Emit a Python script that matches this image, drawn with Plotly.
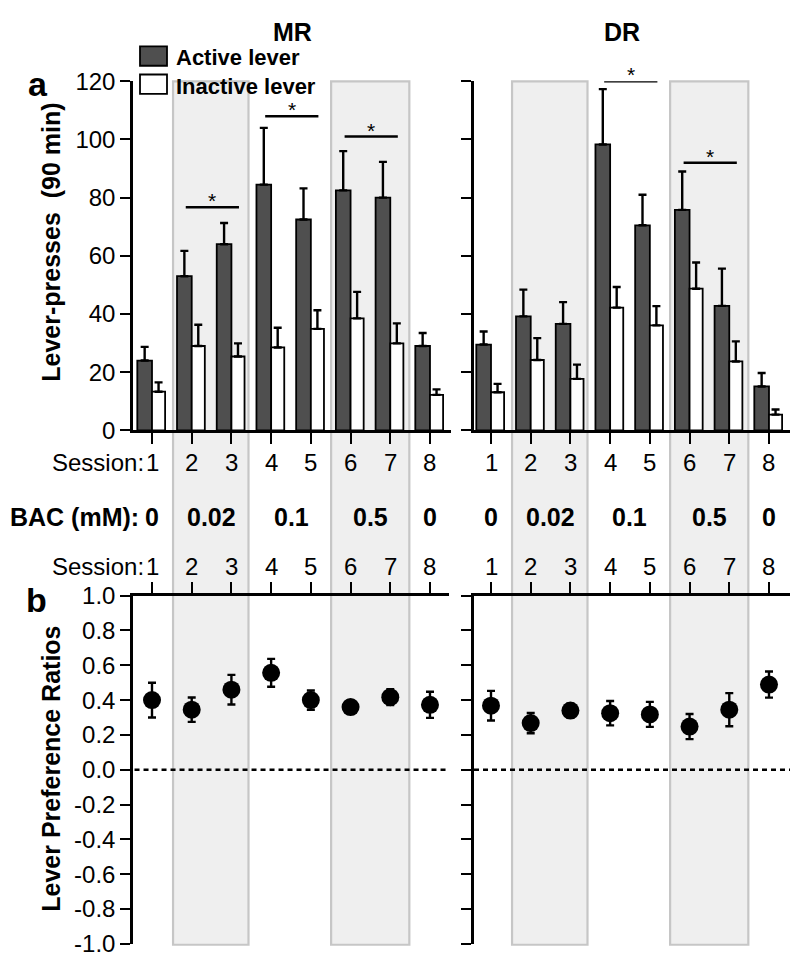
import plotly.graph_objects as go

W, H = 800, 976
FONT = "Liberation Sans, Arial, Helvetica, sans-serif"

sessions = [1, 2, 3, 4, 5, 6, 7, 8]
session_text = ["1", "2", "3", "4", "5", "6", "7", "8"]

mr_active = [24, 53, 64, 84.5, 72.5, 82.5, 80, 29]
mr_active_err = [4.7, 8.7, 7.3, 19.5, 10.7, 13.5, 12.3, 4.5]
mr_inactive = [13.3, 29, 25.4, 28.5, 34.9, 38.5, 29.9, 12.2]
mr_inactive_err = [3.2, 7.3, 4.5, 6.8, 6.4, 9.1, 6.9, 1.9]

dr_active = [29.5, 39.2, 36.6, 98.3, 70.5, 75.8, 42.8, 15.1]
dr_active_err = [4.5, 9.2, 7.5, 19, 10.5, 13.2, 12.8, 4.6]
dr_inactive = [13.1, 24.2, 17.7, 42.2, 36.1, 48.7, 23.7, 5.4]
dr_inactive_err = [2.9, 7.5, 4.9, 7.1, 6.6, 9, 6.9, 1.8]

mr_ratio = [0.40, 0.345, 0.46, 0.557, 0.40, 0.36, 0.417, 0.373]
mr_ratio_err = [0.10, 0.07, 0.085, 0.08, 0.055, 0.035, 0.045, 0.075]
dr_ratio = [0.368, 0.268, 0.34, 0.325, 0.318, 0.248, 0.345, 0.489]
dr_ratio_err = [0.085, 0.058, 0.04, 0.07, 0.072, 0.072, 0.095, 0.075]

bac_labels = ["0", "0.02", "0.1", "0.5", "0"]
bac_pos = [1, 2.5, 4.5, 6.5, 8]

mr_sig = [(2, 3, 76.7), (4, 5, 108), (6, 7, 101)]
dr_sig = [(4, 5, 120), (6, 7, 92)]

shade_blocks = [(1.53, 3.43), (5.51, 7.48)]

press_ticks = [0, 20, 40, 60, 80, 100, 120]
ratio_ticks = [-1.0, -0.8, -0.6, -0.4, -0.2, 0.0, 0.2, 0.4, 0.6, 0.8, 1.0]
ratio_text = ["-1.0", "-0.8", "-0.6", "-0.4", "-0.2", "0.0", "0.2", "0.4", "0.6", "0.8", "1.0"]

OFF = 8  # page body margin


def px(v):
    return (v - OFF) / W


def py(v):
    return 1 - (v - OFF) / H


ACTIVE = "#4f4f4f"
fig = go.Figure()

# bars
for xa, ya, act, acte, ina, inae in [("x", "y", mr_active, mr_active_err, mr_inactive, mr_inactive_err),
                                     ("x2", "y2", dr_active, dr_active_err, dr_inactive, dr_inactive_err)]:
    fig.add_trace(go.Bar(x=sessions, y=act, width=0.37, offset=-0.37, xaxis=xa, yaxis=ya,
                         marker=dict(color=ACTIVE, line=dict(color="black", width=1.8)),
                         error_y=dict(type="data", array=acte, arrayminus=[0] * 8, symmetric=False,
                                      color="black", thickness=2.4, width=4),
                         showlegend=False))
    fig.add_trace(go.Bar(x=sessions, y=ina, width=0.33, offset=0.0, xaxis=xa, yaxis=ya,
                         marker=dict(color="white", line=dict(color="black", width=1.8)),
                         error_y=dict(type="data", array=inae, arrayminus=[0] * 8, symmetric=False,
                                      color="black", thickness=2.4, width=4),
                         showlegend=False))

# ratios
for xa, ya, r, re in [("x3", "y3", mr_ratio, mr_ratio_err), ("x4", "y4", dr_ratio, dr_ratio_err)]:
    fig.add_trace(go.Scatter(x=sessions, y=r, mode="markers", xaxis=xa, yaxis=ya,
                             marker=dict(color="black", size=18, symbol="circle"),
                             error_y=dict(type="data", array=re, color="black", thickness=2.4, width=4),
                             showlegend=False))

shapes = []
for xr in ["x", "x2"]:
    for a, b in shade_blocks:
        shapes.append(dict(type="rect", xref=xr, yref="paper", x0=a, x1=b, y0=py(957), y1=py(69),
                           fillcolor="#efefef", line=dict(color="#c6c6c6", width=2.2), layer="below"))

annotations = []
# significance brackets
for xr, yr, sig in [("x", "y", mr_sig), ("x2", "y2", dr_sig)]:
    for a, b, yv in sig:
        shapes.append(dict(type="line", xref=xr, yref=yr, x0=a - 0.15, x1=b + 0.19, y0=yv, y1=yv,
                           line=dict(color="black", width=2.5)))
        annotations.append(dict(xref=xr, yref=yr, x=(a + b) / 2 + 0.02, y=yv, text="*", showarrow=False,
                                yanchor="bottom", yshift=-6, borderpad=0,
                                font=dict(size=21, color="black", family=FONT)))

# zero dotted lines
for xr, yr, x0, x1 in [("x3", "y3", 0.56, 8.45), ("x4", "y4", 0.572, 8.529)]:
    shapes.append(dict(type="line", xref=xr, yref=yr, x0=x0, x1=x1, y0=0, y1=0,
                       line=dict(color="black", width=2.5, dash="5px,4px")))

# legend
shapes.append(dict(type="rect", xref="paper", yref="paper", x0=px(140), x1=px(167), y0=py(53), y1=py(33),
                   fillcolor=ACTIVE, line=dict(color="black", width=1.8)))
shapes.append(dict(type="rect", xref="paper", yref="paper", x0=px(140), x1=px(167), y0=py(82), y1=py(62),
                   fillcolor="white", line=dict(color="black", width=1.8)))
annotations.append(dict(xref="paper", yref="paper", x=px(175), y=py(45), text="<b>Active lever</b>",
                        xanchor="left", yanchor="middle", showarrow=False, borderpad=0,
                        font=dict(size=22, color="black", family=FONT)))
annotations.append(dict(xref="paper", yref="paper", x=px(175), y=py(74), text="<b>Inactive lever</b>",
                        xanchor="left", yanchor="middle", showarrow=False, borderpad=0,
                        font=dict(size=22, color="black", family=FONT)))

# titles and panel letters
annotations.append(dict(xref="paper", yref="paper", x=px(292), y=py(18), text="<b>MR</b>", showarrow=False,
                        xanchor="center", yanchor="middle", font=dict(size=25, color="black", family=FONT)))
annotations.append(dict(xref="paper", yref="paper", x=px(622), y=py(18), text="<b>DR</b>", showarrow=False,
                        xanchor="center", yanchor="middle", font=dict(size=25, color="black", family=FONT)))
annotations.append(dict(xref="paper", yref="paper", x=px(38), y=py(72), text="<b>a</b>", showarrow=False,
                        xanchor="center", yanchor="middle", font=dict(size=34, color="black", family=FONT)))
annotations.append(dict(xref="paper", yref="paper", x=px(36), y=py(602), text="<b>b</b>", showarrow=False,
                        xanchor="center", yanchor="middle", font=dict(size=34, color="black", family=FONT)))
annotations.append(dict(xref="paper", yref="paper", x=px(51), y=py(235), text="<b>Lever-presses  (90 min)</b>",
                        showarrow=False, textangle=-90, xanchor="center", yanchor="middle",
                        font=dict(size=25, color="black", family=FONT)))
annotations.append(dict(xref="paper", yref="paper", x=px(51), y=py(776), text="<b>Lever Preference Ratios</b>",
                        showarrow=False, textangle=-90, xanchor="center", yanchor="middle",
                        font=dict(size=25, color="black", family=FONT)))

# session numbers (top row under bars, second row above ratio panel)
for yv in [461, 568]:
    annotations.append(dict(xref="x", yref="paper", x=1, y=py(yv), text="Session:", showarrow=False,
                            xanchor="right", yanchor="middle", xshift=-6,
                            font=dict(size=24, color="black", family=FONT)))
    for xr in ["x", "x2"]:
        for s, t in zip(sessions, session_text):
            annotations.append(dict(xref=xr, yref="paper", x=s, y=py(yv), text=t, showarrow=False,
                                    xanchor="center", yanchor="middle",
                                    font=dict(size=24, color="black", family=FONT)))

# BAC labels
annotations.append(dict(xref="x", yref="paper", x=1, y=py(517), text="<b>BAC (mM):</b>", showarrow=False,
                        xanchor="right", yanchor="middle", xshift=-11,
                        font=dict(size=25, color="black", family=FONT)))
for xr in ["x", "x2"]:
    for lab, pos in zip(bac_labels, bac_pos):
        annotations.append(dict(xref=xr, yref="paper", x=pos, y=py(517), text="<b>" + lab + "</b>",
                                showarrow=False, xanchor="center", yanchor="middle",
                                font=dict(size=25, color="black", family=FONT)))

tickfont = dict(size=24, color="black", family=FONT)
common_x = dict(tickvals=sessions, ticktext=session_text, showticklabels=False, ticks="outside", ticklen=11,
                tickwidth=2.4, tickcolor="black", showline=True, linecolor="black", linewidth=2.5,
                showgrid=False, zeroline=False, fixedrange=True)
common_y = dict(ticks="outside", ticklen=10, tickwidth=2.4, tickcolor="black", showline=True,
                linecolor="black", linewidth=2.5, showgrid=False, zeroline=False, tickfont=tickfont)

x_mr = [0.5215, 8.529]
x_dr = [0.572, 8.529]
fig.update_layout(
    width=W, height=H, margin=dict(l=0, r=0, t=0, b=0),
    paper_bgcolor="white", plot_bgcolor="rgba(0,0,0,0)",
    font=dict(family=FONT, color="black"),
    showlegend=False,
    xaxis=dict(domain=[px(133), px(451)], range=x_mr, anchor="y", side="bottom", **common_x),
    yaxis=dict(domain=[py(428), py(69)], range=[0, 120], anchor="x", tickvals=press_ticks, **common_y),
    xaxis2=dict(domain=[px(474), px(790)], range=x_dr, anchor="y2", side="bottom", **common_x),
    yaxis2=dict(domain=[py(428), py(69)], range=[0, 120], anchor="x2", tickvals=press_ticks,
                showticklabels=False, **common_y),
    xaxis3=dict(domain=[px(133), px(449)], range=[x_mr[0], 8.479], anchor="y3", side="top", **common_x),
    yaxis3=dict(domain=[py(956), py(598)], range=[-1, 1], anchor="x3", tickvals=ratio_ticks,
                ticktext=ratio_text, **common_y),
    xaxis4=dict(domain=[px(474), px(790)], range=x_dr, anchor="y4", side="top", **common_x),
    yaxis4=dict(domain=[py(956), py(598)], range=[-1, 1], anchor="x4", tickvals=ratio_ticks,
                showticklabels=False, **common_y),
    shapes=shapes, annotations=annotations,
)

fig.write_html("out.html")
